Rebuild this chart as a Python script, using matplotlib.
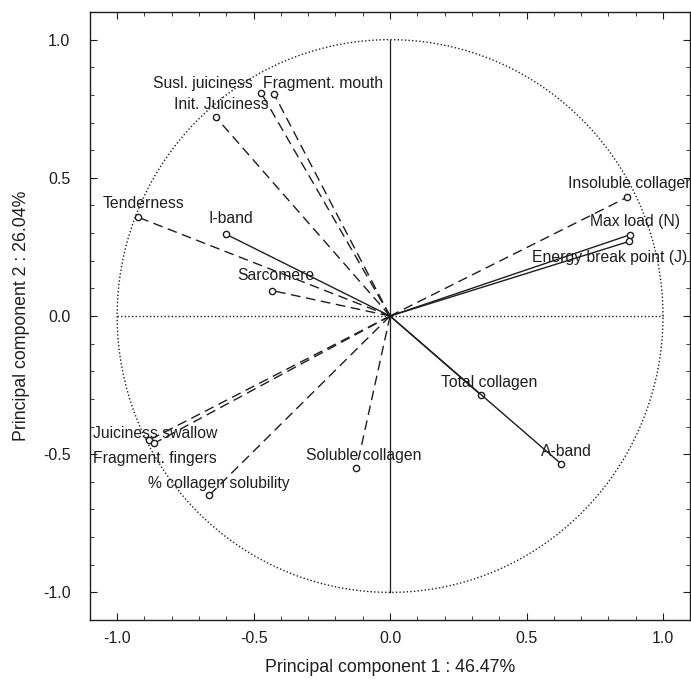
import numpy as np
import matplotlib.pyplot as plt
from matplotlib.ticker import MultipleLocator, AutoMinorLocator

plt.rcParams['font.family'] = ['Liberation Sans', 'DejaVu Sans']
plt.rcParams['axes.unicode_minus'] = False

# variable loadings on PC1 / PC2
names = ['Susl. juiciness', 'Fragment. mouth', 'Init. Juiciness', 'Tenderness',
         'I-band', 'Sarcomere', 'Insoluble collagen', 'Max load (N)',
         'Energy break point (J)', 'Juiciness swallow', 'Fragment. fingers',
         '% collagen solubility', 'Soluble collagen', 'Total collagen', 'A-band']
pc1 = [-0.472, -0.426, -0.638, -0.922, -0.601, -0.432, 0.869, 0.879,
       0.876, -0.883, -0.865, -0.662, -0.123, 0.333, 0.628]
pc2 = [0.807, 0.805, 0.719, 0.357, 0.296, 0.092, 0.430, 0.294,
       0.270, -0.449, -0.461, -0.648, -0.551, -0.286, -0.536]
solid = ['I-band', 'Max load (N)', 'Energy break point (J)', 'Total collagen', 'A-band']

# label placement (pixels from the marker), alignment
label_off = {
    'Susl. juiciness': (-58, 9, 'center'),
    'Fragment. mouth': (49, 10, 'center'),
    'Init. Juiciness': (5, 13, 'center'),
    'Tenderness': (5, 14, 'center'),
    'I-band': (5, 16, 'center'),
    'Sarcomere': (4, 15, 'center'),
    'Insoluble collagen': (-59, 14, 'left'),
    'Max load (N)': (5, 13, 'center'),
    'Energy break point (J)': (-20, -16, 'center'),
    'Juiciness swallow': (6, 7, 'center'),
    'Fragment. fingers': (1, -15, 'center'),
    '% collagen solubility': (9, 12, 'center'),
    'Soluble collagen': (7, 13, 'center'),
    'Total collagen': (8, 13, 'center'),
    'A-band': (5, 13, 'center'),
}

ink = '#1e1e1e'
fig = plt.figure(figsize=(6.91, 6.87), dpi=100)
ax = fig.add_axes([0.130, 0.0975, 0.869, 0.885])

# unit circle and axes lines
t = np.linspace(0, 2 * np.pi, 400)
ax.plot(np.cos(t), np.sin(t), color=ink, lw=1.0, ls=(0, (1, 1.6)))
ax.plot([-1, 1], [0, 0], color=ink, lw=1.0, ls=(0, (1, 1.6)))
ax.plot([0, 0], [-1, 1], color=ink, lw=0.9)

for n, x, y in zip(names, pc1, pc2):
    ls = '-' if n in solid else (0, (7, 4))
    ax.plot([0, x], [0, y], color=ink, lw=1.0, ls=ls)
    ax.plot(x, y, 'o', mfc='white', mec=ink, ms=4.5, mew=1.0)
    dx, dy, ha = label_off[n]
    ax.annotate(n, (x, y), xytext=(dx, dy), textcoords='offset pixels',
                ha=ha, va='center', fontsize=11.3, color=ink, clip_on=False)

ax.set_xlim(-1.1, 1.1)
ax.set_ylim(-1.1, 1.1)
ax.xaxis.set_major_locator(MultipleLocator(0.5))
ax.yaxis.set_major_locator(MultipleLocator(0.5))
ax.xaxis.set_minor_locator(AutoMinorLocator(5))
ax.yaxis.set_minor_locator(AutoMinorLocator(5))
ax.xaxis.set_major_formatter(plt.FormatStrFormatter('%.1f'))
ax.yaxis.set_major_formatter(plt.FormatStrFormatter('%.1f'))
ax.tick_params(which='both', direction='in', top=True, right=True, colors=ink)
ax.tick_params(which='major', length=5, labelsize=11.5)
ax.tick_params(which='minor', length=3)
ax.tick_params(axis='y', pad=14)
ax.tick_params(axis='x', pad=8)
for s in ax.spines.values():
    s.set_color(ink)
    s.set_linewidth(1.0)

ax.set_xlabel('Principal component 1 : 46.47%', fontsize=12.8, color=ink, labelpad=9)
ax.set_ylabel('Principal component 2 : 26.04%', fontsize=12.8, color=ink, labelpad=9)

fig.savefig('out.png', dpi=100)
